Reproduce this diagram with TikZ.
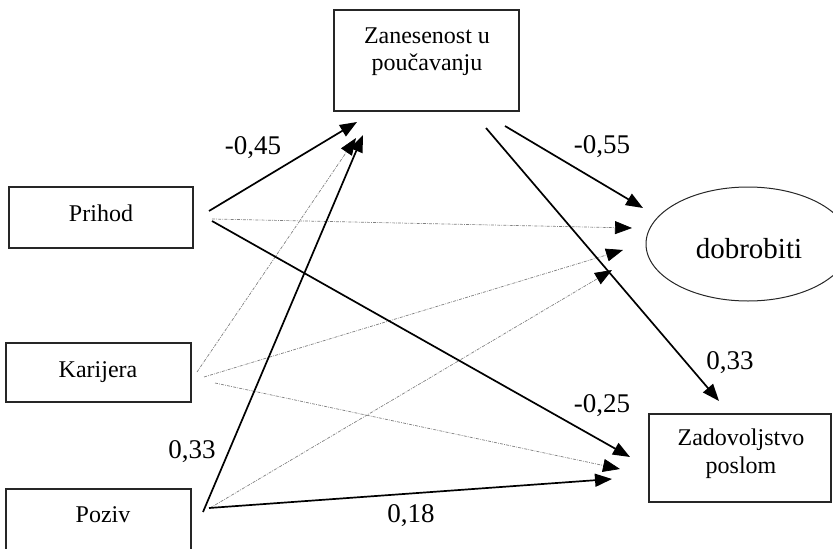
\documentclass[tikz,border=0pt]{standalone}
\usepackage{fontspec}
\setmainfont{Liberation Serif}
\usetikzlibrary{arrows.meta,shapes.geometric}
\begin{document}
\begin{tikzpicture}[x=1pt,y=-1pt,
  box/.style={draw=black!85, line width=1.1pt, rectangle, inner sep=0pt},
  boxtext/.style={font=\fontsize{24}{28}\selectfont, anchor=base, inner sep=0pt},
  coef/.style={font=\fontsize{27}{30}\selectfont, anchor=base, inner sep=0pt},
  sarrow/.style={line width=1.7pt, -{Triangle[length=17pt,width=13pt]}},
  darrow/.style={line width=0.7pt, draw=black!50, dash pattern=on 3pt off 1.2pt on 0.8pt off 1.2pt,
     -{Triangle[length=17pt,width=13pt,color=black]}}
]
\useasboundingbox (0,0) rectangle (833,549);

% boxes
\node[box, minimum width=185pt, minimum height=101pt] (zan) at (426.5,60.5) {};
\node[box, minimum width=184pt, minimum height=61pt] (pri) at (101,217.5) {};
\node[box, minimum width=185pt, minimum height=59pt] (kar) at (98.5,372.5) {};
\node[box, minimum width=185pt, minimum height=71pt] (poz) at (98.5,524.5) {};
\node[draw=black!85, line width=1pt, ellipse, inner sep=0pt, minimum width=204pt, minimum height=114pt] (dob) at (748,244) {};
\node[box, minimum width=182pt, minimum height=88pt] (zad) at (740,458) {};

% texts
\node[boxtext] (zant1) at (427,43) {Zanesenost u};
\node[boxtext] (zant2) at (427,70) {poučavanju};
\node[boxtext] (prit) at (101,221) {Prihod};
\node[boxtext] (kart) at (98,377) {Karijera};
\node[boxtext] (pozt) at (103,522) {Poziv};
\node[boxtext, font=\fontsize{29}{32}\selectfont] (dobt) at (749,258) {dobrobiti};
\node[boxtext] (zadt1) at (741,445) {Zadovoljstvo};
\node[boxtext] (zadt2) at (741,473) {poslom};

% connector ends
\coordinate (p1) at (209,211);
\coordinate (p2) at (212,219);
\coordinate (p3) at (212,221);
\coordinate (k1) at (197,372);
\coordinate (k2) at (204,377);
\coordinate (k3) at (215,383);
\coordinate (z1) at (203,512);
\coordinate (z2) at (210,508);
\coordinate (z3) at (209,508);
\coordinate (zanA) at (486,128);
\coordinate (zanB) at (505,126);
\coordinate (zin1) at (357,122);
\coordinate (zin2) at (356,138);
\coordinate (zin3) at (363,135);
\coordinate (dob1) at (643,208);
\coordinate (dob2) at (632,228);
\coordinate (dob3) at (623,250);
\coordinate (dob4) at (612,270);
\coordinate (zad1) at (719,401);
\coordinate (zad2) at (630,457);
\coordinate (zad3) at (620,469);
\coordinate (zad4) at (612,479);

% dotted connectors
\draw[darrow] (k1) -- (zin2);
\draw[darrow] (p2) -- (dob2);
\draw[darrow] (k2) -- (dob3);
\draw[darrow] (z2) -- (dob4);
\draw[darrow] (k3) -- (zad3);

% solid connectors
\draw[sarrow] (p1) -- (zin1);
\draw[sarrow] (z1) -- (zin3);
\draw[sarrow] (p3) -- (zad2);
\draw[sarrow] (z3) -- (zad4);
\draw[sarrow] (zanB) -- (dob1);
\draw[sarrow] (zanA) -- (zad1);

% coefficients
\node[coef] (c1) at (253,154) {-0,45};
\node[coef] (c2) at (602,153) {-0,55};
\node[coef] (c3) at (730,369) {0,33};
\node[coef] (c4) at (602,412) {-0,25};
\node[coef] (c5) at (192,458) {0,33};
\node[coef] (c6) at (411,522) {0,18};
\end{tikzpicture}
\end{document}
